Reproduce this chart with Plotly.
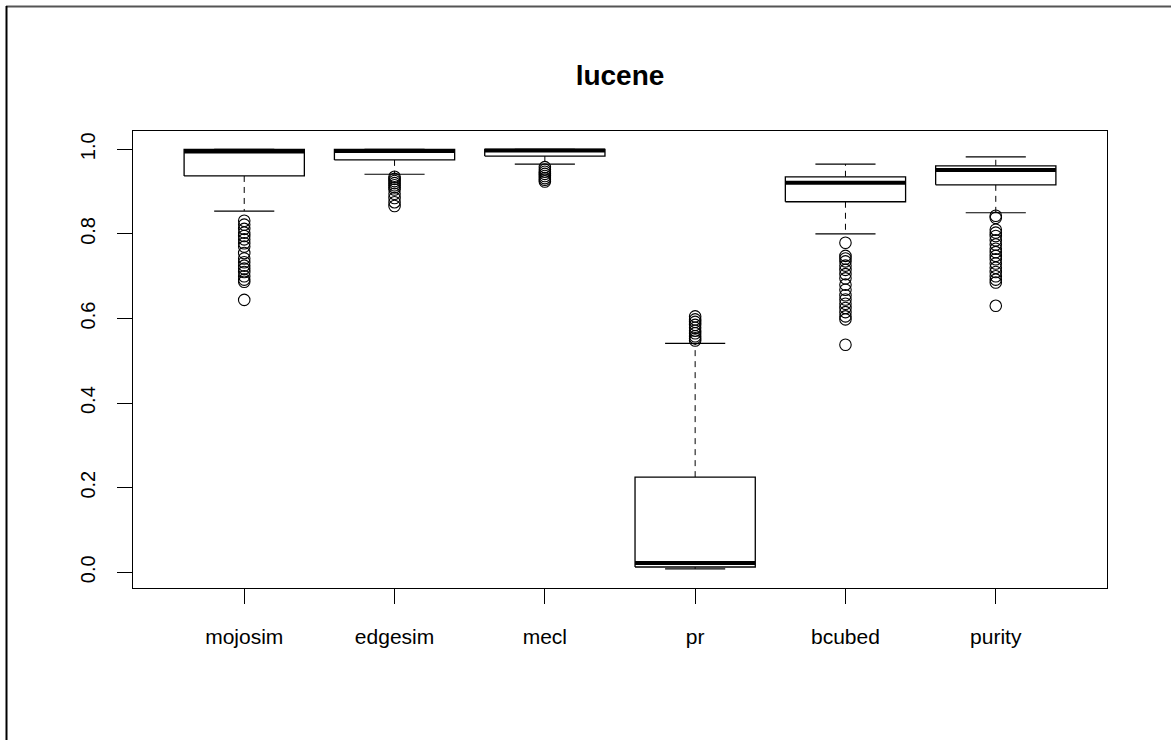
import plotly.graph_objects as go

categories = ["mojosim", "edgesim", "mecl", "pr", "bcubed", "purity"]
q1 = [0.937, 0.975, 0.984, 0.0125, 0.876, 0.916]
median = [0.995, 0.996, 0.997, 0.022, 0.921, 0.951]
q3 = [1.0, 1.0, 1.0, 0.225, 0.935, 0.961]
lower_whisker = [0.854, 0.941, 0.965, 0.008, 0.800, 0.850]
upper_whisker = [1.0, 1.0, 1.0, 0.541, 0.965, 0.982]

mojosim_out = [0.831, 0.822, 0.812, 0.803, 0.795, 0.787, 0.778, 0.770, 0.755, 0.742,
               0.733, 0.725, 0.718, 0.710, 0.700, 0.692, 0.687, 0.644]
edgesim_out = [0.935, 0.930, 0.925, 0.920, 0.915, 0.910, 0.905, 0.895, 0.885, 0.875, 0.866]
mecl_out = [0.958, 0.952, 0.947, 0.942, 0.937, 0.932, 0.928, 0.924]
pr_out = [0.605, 0.598, 0.592, 0.585, 0.578, 0.571, 0.565, 0.558, 0.553, 0.548]
bcubed_out = [0.779, 0.748, 0.742, 0.735, 0.725, 0.715, 0.705, 0.695, 0.680, 0.668,
              0.655, 0.645, 0.635, 0.625, 0.615, 0.605, 0.598, 0.538]
purity_out = [0.843, 0.838, 0.810, 0.803, 0.795, 0.785, 0.775, 0.765, 0.757, 0.748,
              0.740, 0.730, 0.720, 0.710, 0.700, 0.692, 0.685, 0.630]
outliers = [mojosim_out, edgesim_out, mecl_out, pr_out, bcubed_out, purity_out]

y_ticks = [0.0, 0.2, 0.4, 0.6, 0.8, 1.0]

HALF = 0.4   # half box width (boxwex 0.8)
CAP = 0.2    # half staple width

fig = go.Figure()
for i, name in enumerate(categories):
    xc = i + 1
    # whiskers (dashed)
    fig.add_trace(go.Scatter(x=[xc, xc], y=[q3[i], upper_whisker[i]], mode="lines",
                             line=dict(color="black", width=1, dash="6px,5px"),
                             showlegend=False, hoverinfo="skip"))
    fig.add_trace(go.Scatter(x=[xc, xc], y=[q1[i], lower_whisker[i]], mode="lines",
                             line=dict(color="black", width=1, dash="6px,5px"),
                             showlegend=False, hoverinfo="skip"))
    # staples
    for w in (upper_whisker[i], lower_whisker[i]):
        fig.add_trace(go.Scatter(x=[xc - CAP, xc + CAP], y=[w, w], mode="lines",
                                 line=dict(color="black", width=1.2),
                                 showlegend=False, hoverinfo="skip"))
    # box
    fig.add_trace(go.Scatter(x=[xc - HALF, xc + HALF, xc + HALF, xc - HALF, xc - HALF],
                             y=[q1[i], q1[i], q3[i], q3[i], q1[i]], mode="lines",
                             fill="toself", fillcolor="white",
                             line=dict(color="black", width=1.3),
                             showlegend=False, hoverinfo="skip"))
    # median
    fig.add_trace(go.Scatter(x=[xc - HALF, xc + HALF], y=[median[i], median[i]], mode="lines",
                             line=dict(color="black", width=4),
                             showlegend=False, hoverinfo="skip"))
    # outliers
    fig.add_trace(go.Scatter(x=[xc] * len(outliers[i]), y=outliers[i], mode="markers",
                             marker=dict(symbol="circle-open", size=11.5, color="black",
                                         line=dict(width=1.1, color="black")),
                             showlegend=False, hoverinfo="skip"))

font_family = "Liberation Sans, Arial, sans-serif"

fig.update_layout(
    width=1171, height=740,
    margin=dict(l=133, r=64, t=131, b=152),
    paper_bgcolor="white", plot_bgcolor="white",
    title=dict(text="<b>lucene</b>", x=0.5, xref="paper", xanchor="center",
               y=1 - 75 / 740, yref="container", yanchor="middle",
               font=dict(family=font_family, size=28, color="black")),
    font=dict(family=font_family, color="black"),
    xaxis=dict(range=[0.26, 6.74], tickvals=list(range(1, len(categories) + 1)),
               ticktext=categories, showgrid=False, zeroline=False,
               showline=True, mirror=True, linecolor="black", linewidth=1.3,
               ticks="outside", ticklen=15, tickwidth=1.3, tickcolor="black",
               ticklabelstandoff=15,
               tickfont=dict(family=font_family, size=21, color="black")),
    yaxis=dict(range=[-0.0371, 1.0433], tickvals=y_ticks,
               ticktext=[f"{v:.1f}" for v in y_ticks], showgrid=False, zeroline=False,
               showline=True, mirror=True, linecolor="black", linewidth=1.3,
               ticks="outside", ticklen=15, tickwidth=1.3, tickcolor="black",
               tickangle=-90, ticklabelstandoff=14,
               tickfont=dict(family=font_family, size=20, color="black")),
    shapes=[
        dict(type="line", xref="paper", yref="paper",
             x0=(6 - 133) / 974, x1=(1171 - 133) / 974,
             y0=(588 - 6.5) / 457, y1=(588 - 6.5) / 457,
             line=dict(color="#555555", width=2)),
        dict(type="line", xref="paper", yref="paper",
             x0=(6.5 - 133) / 974, x1=(6.5 - 133) / 974,
             y0=(588 - 6) / 457, y1=(588 - 745) / 457,
             line=dict(color="black", width=2)),
    ],
)

fig.write_html("out.html")
